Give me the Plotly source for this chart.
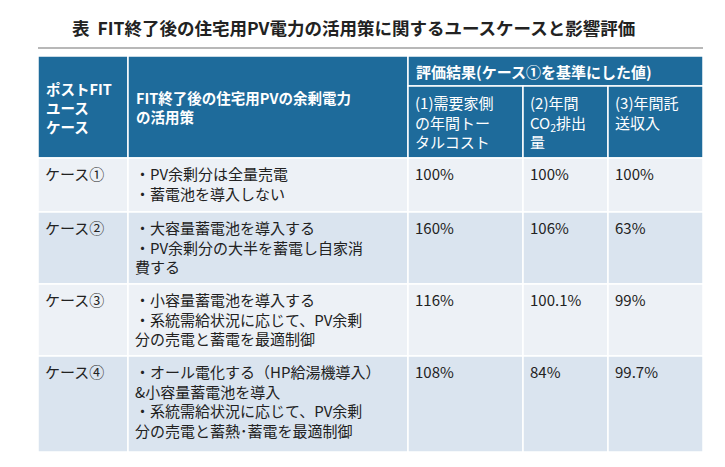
import plotly.graph_objects as go

title = "表  FIT終了後の住宅用PV電力の活用策に関するユースケースと影響評価"
hdr_case = "ポストFIT<br>ユース<br>ケース"
hdr_policy = "FIT終了後の住宅用PVの余剰電力<br>の活用策"
hdr_eval = "評価結果(ケース①を基準にした値)"
hdr_metrics = ["(1)需要家側<br>の年間トー<br>タルコスト", "(2)年間<br>CO<sub>2</sub>排出<br>量", "(3)年間託<br>送収入"]
cases = ["ケース①", "ケース②", "ケース③", "ケース④"]
policies = [
    "・PV余剰分は全量売電<br>・蓄電池を導入しない",
    "・大容量蓄電池を導入する<br>・PV余剰分の大半を蓄電し自家消<br>費する",
    "・小容量蓄電池を導入する<br>・系統需給状況に応じて、PV余剰<br>分の売電と蓄電を最適制御",
    "・オール電化する（HP給湯機導入）<br>&小容量蓄電池を導入<br>・系統需給状況に応じて、PV余剰<br>分の売電と蓄熱･蓄電を最適制御",
]
cost = ["100%", "160%", "116%", "108%"]
co2 = ["100%", "106%", "100.1%", "84%"]
revenue = ["100%", "63%", "99%", "99.7%"]

# layout geometry (pixels)
colx = [30, 120, 400, 515, 600, 695]
hy = [48, 78, 150]
rowy = [150, 204, 276, 348, 444]
HDR = "#1E6B9B"
ROW = ["#EDF1F6", "#DAE4EF"]
FONT = "Noto Sans CJK JP"

fig = go.Figure()
shapes, ann = [], []

def cell(x0, y0, x1, y1, color):
    shapes.append(dict(type="rect", xref="x", yref="y", x0=x0, x1=x1, y0=y0, y1=y1,
                       fillcolor=color, line=dict(color="white", width=1.5), layer="below"))

def txt(x, y, t, color="#222", size=15, bold=False, yanchor="top"):
    if bold:
        t = "<b>" + t + "</b>"
    ann.append(dict(x=x, y=y, xref="x", yref="y", text=t, showarrow=False, xanchor="left",
                    yanchor=yanchor, align="left", font=dict(family=FONT, size=size, color=color)))

cell(colx[0], hy[0], colx[1], hy[2], HDR)
cell(colx[1], hy[0], colx[2], hy[2], HDR)
cell(colx[2], hy[0], colx[5], hy[1], HDR)
for i in range(3):
    cell(colx[2 + i], hy[1], colx[3 + i], hy[2], HDR)
txt(colx[0] + 6, 99, hdr_case, "white", 14.5, True, "middle")
txt(colx[1] + 6, 99, hdr_policy, "white", 14.5, True, "middle")
txt(colx[2] + 6, 63, hdr_eval, "white", 15, True, "middle")
for i, m in enumerate(hdr_metrics):
    txt(colx[2 + i] + 5, hy[1] + 4, m, "white", 15)

for r in range(4):
    y0, y1 = rowy[r], rowy[r + 1]
    for c in range(5):
        cell(colx[c], y0, colx[c + 1], y1, ROW[r % 2])
    vals = [cases[r], policies[r], cost[r], co2[r], revenue[r]]
    for c, v in enumerate(vals):
        txt(colx[c] + 5, y0 + 3, v, "#222", 15)

txt(62, 19, "<b>" + title + "</b>", "#222", 17.5, False, "middle")
shapes.append(dict(type="line", xref="x", yref="y", x0=30, x1=695, y0=40, y1=40,
                   line=dict(color="#B8B8B8", width=2)))

fig.update_layout(width=725, height=467, margin=dict(l=0, r=0, t=0, b=0),
                  plot_bgcolor="white", paper_bgcolor="white", shapes=shapes, annotations=ann,
                  xaxis=dict(range=[0, 725], visible=False, fixedrange=True),
                  yaxis=dict(range=[467, 0], visible=False, fixedrange=True),
                  showlegend=False)
fig.write_html("out.html")
